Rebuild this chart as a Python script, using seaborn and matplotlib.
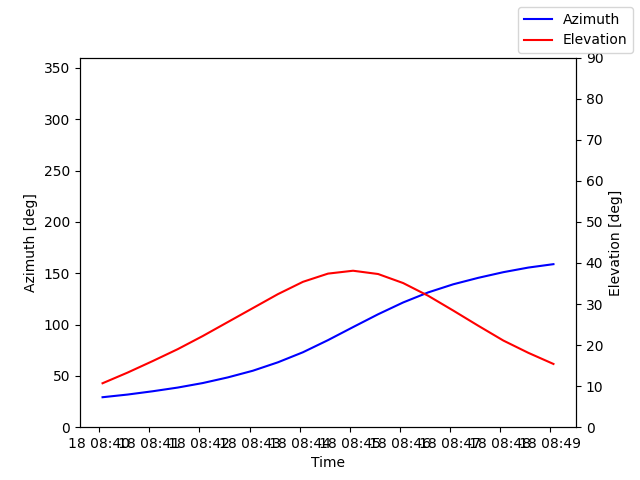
import pandas as pd
import matplotlib
matplotlib.use("Agg")
import matplotlib.pyplot as plt
import matplotlib.dates as mdates
import seaborn as sns

# Pass samples every 30 s
times = pd.date_range("2024-05-18 08:40:04", periods=19, freq="30s")
azimuth = [29.2, 31.8, 35.0, 38.6, 43.0, 48.5, 55.0, 63.2, 73.0, 84.8,
           97.5, 110.0, 121.5, 131.3, 139.2, 145.5, 151.0, 155.5, 158.8]
elevation = [10.7, 13.3, 16.1, 19.0, 22.2, 25.6, 29.0, 32.4, 35.4, 37.4,
             38.1, 37.3, 35.1, 32.0, 28.4, 24.7, 21.1, 18.1, 15.4]

df = pd.DataFrame({"Time": times, "Azimuth": azimuth, "Elevation": elevation})

fig, ax1 = plt.subplots(figsize=(6.4, 4.8), dpi=100)
ax2 = ax1.twinx()

sns.lineplot(data=df, x="Time", y="Azimuth", ax=ax1, color="blue", label="Azimuth")
sns.lineplot(data=df, x="Time", y="Elevation", ax=ax2, color="red", label="Elevation")

h1, l1 = ax1.get_legend_handles_labels()
h2, l2 = ax2.get_legend_handles_labels()
ax1.get_legend().remove()
ax2.get_legend().remove()

ax1.set_ylim(0, 360)
ax2.set_ylim(0, 90)
ax1.set_xlabel("Time")
ax1.set_ylabel("Azimuth [deg]")
ax2.set_ylabel("Elevation [deg]")
ax1.xaxis.set_major_locator(mdates.MinuteLocator())
ax1.xaxis.set_major_formatter(mdates.DateFormatter("%d %H:%M"))

fig.legend(h1 + h2, l1 + l2, loc="upper right")

plt.savefig("out.png")
